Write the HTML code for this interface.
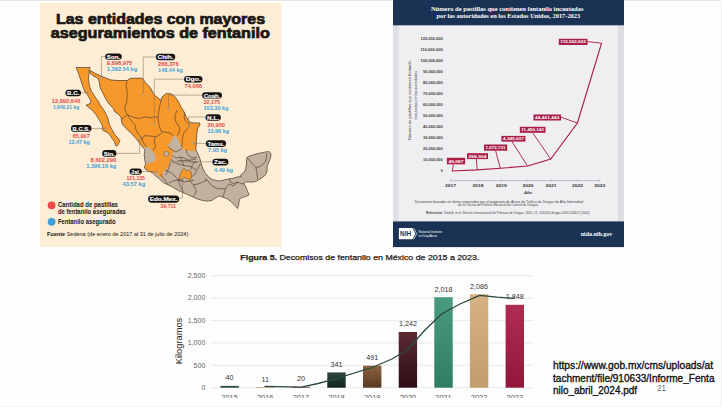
<!DOCTYPE html>
<html><head><meta charset="utf-8"><style>
html,body{margin:0;padding:0;background:#fefdfd;}
body{width:722px;height:407px;overflow:hidden;}
svg{display:block;font-family:"Liberation Sans",Arial,sans-serif;}
</style></head><body>
<svg width="722" height="407" viewBox="0 0 722 407">
<rect width="722" height="407" fill="#fefdfd"/>
<rect x="0" y="0" width="722" height="1" fill="#e6e4e6"/>

<rect x="40" y="3" width="241.4" height="243.9" fill="#fcedd4"/>
<text x="160.5" y="23.7" text-anchor="middle" font-size="14.5" font-weight="bold" fill="#1b1714" stroke="#1b1714" stroke-width="0.7" textLength="209" lengthAdjust="spacingAndGlyphs">Las entidades con mayores</text>
<text x="160.3" y="37.7" text-anchor="middle" font-size="14.5" font-weight="bold" fill="#1b1714" stroke="#1b1714" stroke-width="0.7" textLength="219" lengthAdjust="spacingAndGlyphs">aseguramientos de fentanilo</text>
<defs><clipPath id="mx"><polygon points="89.7,70.0 90.3,70.6 94.6,73.1 100.7,76.1 104.4,77.5 111.1,80.0 117.7,80.5 127.1,80.5 130.4,78.3 142.0,78.1 144.2,80.5 145.4,82.7 148.8,86.0 151.0,88.8 152.6,92.1 154.3,94.9 157.0,97.1 159.8,99.3 160.9,100.4 162.0,97.1 164.2,94.9 166.4,93.5 170.3,93.8 173.6,95.4 176.4,98.7 179.1,103.1 181.4,107.6 183.6,110.9 184.7,113.7 186.6,117.4 188.4,120.4 190.3,122.3 193.3,122.9 196.4,122.9 199.5,122.9 200.1,124.7 198.3,127.2 197.3,129.7 196.8,134.6 196.4,140.7 196.2,145.6 195.8,149.3 196.8,151.5 198.6,155.3 200.2,159.5 201.4,163.9 202.8,168.6 205.3,173.2 208.8,177.2 212.6,179.6 217.4,180.8 221.5,180.8 225.5,179.5 229.6,178.8 233.6,178.1 237.7,176.8 241.3,176.8 240.5,175.1 243.9,172.5 245.6,169.1 246.5,163.9 246.5,159.6 247.3,157.0 251.6,155.3 257.7,153.6 264.5,152.2 268.8,151.5 271.1,153.6 270.5,157.9 268.8,162.2 267.1,166.5 267.1,170.8 265.4,175.1 262.0,177.7 259.4,179.4 256.8,181.1 253.4,182.0 249.1,182.0 245.6,182.0 243.9,183.7 245.6,186.3 247.3,190.5 249.1,194.8 245.6,196.6 241.9,197.5 239.5,199.4 238.5,205.2 237.6,208.6 235.1,205.7 231.3,201.8 227.4,198.9 223.5,197.3 218.6,196.0 215.7,197.9 211.9,200.4 207.0,201.1 202.2,200.4 197.3,198.9 192.9,197.0 187.6,194.5 181.8,192.1 178.0,190.3 172.6,187.0 168.5,185.0 163.5,182.8 160.0,179.5 157.0,177.0 154.0,174.5 152.3,172.6 148.6,171.2 145.5,169.3 144.3,166.9 145.6,164.1 144.9,160.4 144.2,154.5 144.9,150.0 143.9,148.6 141.4,145.5 139.6,143.1 137.7,140.6 134.7,136.9 131.0,133.3 127.3,129.6 123.6,125.9 121.8,122.8 121.0,117.0 117.7,113.7 114.4,111.5 113.3,108.2 110.0,104.9 106.6,100.4 103.3,93.8 101.4,90.0 100.1,87.8 99.5,82.9 98.3,79.2 96.4,77.4 92.7,75.5 90.3,73.1"/></clipPath></defs>
<polygon points="89.7,70.0 90.3,70.6 94.6,73.1 100.7,76.1 104.4,77.5 111.1,80.0 117.7,80.5 127.1,80.5 130.4,78.3 142.0,78.1 144.2,80.5 145.4,82.7 148.8,86.0 151.0,88.8 152.6,92.1 154.3,94.9 157.0,97.1 159.8,99.3 160.9,100.4 162.0,97.1 164.2,94.9 166.4,93.5 170.3,93.8 173.6,95.4 176.4,98.7 179.1,103.1 181.4,107.6 183.6,110.9 184.7,113.7 186.6,117.4 188.4,120.4 190.3,122.3 193.3,122.9 196.4,122.9 199.5,122.9 200.1,124.7 198.3,127.2 197.3,129.7 196.8,134.6 196.4,140.7 196.2,145.6 195.8,149.3 196.8,151.5 198.6,155.3 200.2,159.5 201.4,163.9 202.8,168.6 205.3,173.2 208.8,177.2 212.6,179.6 217.4,180.8 221.5,180.8 225.5,179.5 229.6,178.8 233.6,178.1 237.7,176.8 241.3,176.8 240.5,175.1 243.9,172.5 245.6,169.1 246.5,163.9 246.5,159.6 247.3,157.0 251.6,155.3 257.7,153.6 264.5,152.2 268.8,151.5 271.1,153.6 270.5,157.9 268.8,162.2 267.1,166.5 267.1,170.8 265.4,175.1 262.0,177.7 259.4,179.4 256.8,181.1 253.4,182.0 249.1,182.0 245.6,182.0 243.9,183.7 245.6,186.3 247.3,190.5 249.1,194.8 245.6,196.6 241.9,197.5 239.5,199.4 238.5,205.2 237.6,208.6 235.1,205.7 231.3,201.8 227.4,198.9 223.5,197.3 218.6,196.0 215.7,197.9 211.9,200.4 207.0,201.1 202.2,200.4 197.3,198.9 192.9,197.0 187.6,194.5 181.8,192.1 178.0,190.3 172.6,187.0 168.5,185.0 163.5,182.8 160.0,179.5 157.0,177.0 154.0,174.5 152.3,172.6 148.6,171.2 145.5,169.3 144.3,166.9 145.6,164.1 144.9,160.4 144.2,154.5 144.9,150.0 143.9,148.6 141.4,145.5 139.6,143.1 137.7,140.6 134.7,136.9 131.0,133.3 127.3,129.6 123.6,125.9 121.8,122.8 121.0,117.0 117.7,113.7 114.4,111.5 113.3,108.2 110.0,104.9 106.6,100.4 103.3,93.8 101.4,90.0 100.1,87.8 99.5,82.9 98.3,79.2 96.4,77.4 92.7,75.5 90.3,73.1" fill="#c1b19e"/>
<g clip-path="url(#mx)"><polygon points="60.0,60.0 300.0,60.0 300.0,150.0 210.0,151.0 196.0,150.6 192.0,151.0 186.0,150.2 182.3,148.6 181.0,145.6 179.2,141.9 177.4,138.3 175.5,135.5 173.7,135.8 169.5,143.5 167.7,146.0 169.5,148.4 172.6,149.7 173.2,151.5 172.0,155.2 171.4,157.7 170.7,160.7 168.9,163.2 168.9,166.9 166.4,169.3 164.0,170.6 162.7,173.0 162.7,176.1 160.9,177.3 158.4,175.5 156.0,173.6 152.3,172.4 150.0,174.0 140.0,180.0 138.0,165.0 144.5,165.7 148.6,163.2 151.7,162.2 154.8,161.4 156.0,158.3 154.8,154.0 152.3,150.9 149.2,147.2 145.5,147.2 143.0,148.0 60.0,148.0" fill="#f7982b"/></g>
<polygon points="178.6,180.3 180.0,174.9 182.0,170.8 184.0,168.1 186.1,170.8 188.8,170.1 191.2,172.2 191.5,176.9 190.1,180.3 187.4,178.9 185.4,177.6 182.7,178.2 180.7,179.6" fill="#f7982b" stroke="#5a3f22" stroke-width="0.5"/>
<circle cx="166.4" cy="153.9" r="2.6" fill="#c1b19e" stroke="#5a3f22" stroke-width="0.4"/>
<g fill="none" stroke="#5e4330" stroke-width="0.7" stroke-linejoin="round"><polyline points="86.1,105.2 99.7,104.6"/>
<polyline points="127.1,80.5 126.5,83.8 126.0,86.1 127.1,90.5 127.1,97.1 126.5,103.8 124.9,106.0 124.9,109.3 126.0,112.6 127.7,114.8"/>
<polyline points="121.8,119.5 124.5,117.0 127.7,114.8"/>
<polyline points="127.7,114.8 133.4,117.3 139.6,118.5 144.5,116.7 150.6,117.9 154.3,116.7 158.0,117.3"/>
<polyline points="127.7,114.8 129.7,118.5 132.2,121.6 135.3,125.3 135.9,129.6 137.7,133.3 140.2,135.7 142.0,139.4 144.5,144.3 146.4,147.1"/>
<polyline points="160.9,100.4 160.0,105.0 159.0,110.0 158.0,117.3"/>
<polyline points="158.0,117.3 158.6,123.4 160.5,129.6 161.7,132.0 165.0,132.0 170.0,133.0 173.7,135.8"/>
<polyline points="177.4,110.0 175.5,113.7 174.9,117.4 175.5,121.0 178.6,126.0 179.8,128.4 179.2,132.1 177.4,135.8"/>
<polyline points="184.7,112.5 184.1,117.4 185.4,121.0 189.7,124.7 187.8,128.4 183.5,133.3 182.3,138.3 182.3,141.9 181.7,146.9"/>
<polyline points="142.0,139.4 144.5,135.7 150.0,136.0 155.5,136.9 158.0,135.7 161.7,133.3"/>
<polyline points="155.5,136.9 154.3,140.6 155.5,146.8 153.1,150.5"/>
<polyline points="168.0,146.5 172.0,150.0 176.0,152.0 180.0,150.0 182.3,148.1"/>
<polyline points="172.2,156.0 176.0,158.0 180.0,157.0 184.0,158.0 188.0,160.0 192.0,162.0 197.0,162.0"/>
<polyline points="170.7,158.9 174.0,162.0 178.0,164.0 182.0,165.0 186.0,166.0 190.0,166.0 193.0,168.0 196.0,170.0"/>
<polyline points="186.0,149.3 187.0,153.0 189.0,156.0 192.0,158.0 197.0,157.0"/>
<polyline points="180.0,157.0 182.0,161.0 184.0,166.0"/>
<polyline points="165.1,170.1 170.0,172.0 175.0,176.0 178.0,180.0 180.0,185.0 183.4,192.4"/>
<polyline points="178.6,180.3 184.0,182.0 190.0,181.0 194.0,180.0"/>
<polyline points="191.5,176.9 194.0,175.0 196.0,172.0 198.0,168.0 200.5,163.9"/>
<polyline points="229.6,178.8 230.0,182.0 234.5,183.7 237.0,182.0 241.3,183.7 243.9,183.7"/>
<polyline points="247.3,157.9 250.8,162.2 255.9,167.3 260.2,166.5 265.4,162.2 267.1,153.6"/>
<polyline points="255.9,167.3 256.8,172.5 257.7,179.4"/>
<polyline points="160.5,174.0 163.0,178.0 168.5,185.0"/>
<polyline points="168.8,182.7 173.0,181.0 179.0,179.8 183.6,180.5"/>
<polyline points="190.0,181.0 193.4,184.8 195.9,189.7 195.9,192.6 193.4,196.5"/>
<polyline points="193.4,184.8 198.3,183.9 203.1,181.9 207.0,180.0"/>
<polyline points="205.0,178.5 207.0,180.0 211.9,185.8 217.7,188.7 225.4,188.7 229.3,183.9 233.2,185.8 238.0,181.9"/>
<polyline points="225.4,188.7 223.5,195.5 223.5,197.3"/>
<polyline points="190.9,169.5 192.4,165.0 194.6,162.1 196.8,162.1"/>
<polyline points="177.7,160.6 185.0,160.6 191.7,159.9 196.1,159.1"/>
<polyline points="171.0,160.6 168.8,168.0 165.9,175.3"/></g>
<polygon points="89.7,70.0 90.3,70.6 94.6,73.1 100.7,76.1 104.4,77.5 111.1,80.0 117.7,80.5 127.1,80.5 130.4,78.3 142.0,78.1 144.2,80.5 145.4,82.7 148.8,86.0 151.0,88.8 152.6,92.1 154.3,94.9 157.0,97.1 159.8,99.3 160.9,100.4 162.0,97.1 164.2,94.9 166.4,93.5 170.3,93.8 173.6,95.4 176.4,98.7 179.1,103.1 181.4,107.6 183.6,110.9 184.7,113.7 186.6,117.4 188.4,120.4 190.3,122.3 193.3,122.9 196.4,122.9 199.5,122.9 200.1,124.7 198.3,127.2 197.3,129.7 196.8,134.6 196.4,140.7 196.2,145.6 195.8,149.3 196.8,151.5 198.6,155.3 200.2,159.5 201.4,163.9 202.8,168.6 205.3,173.2 208.8,177.2 212.6,179.6 217.4,180.8 221.5,180.8 225.5,179.5 229.6,178.8 233.6,178.1 237.7,176.8 241.3,176.8 240.5,175.1 243.9,172.5 245.6,169.1 246.5,163.9 246.5,159.6 247.3,157.0 251.6,155.3 257.7,153.6 264.5,152.2 268.8,151.5 271.1,153.6 270.5,157.9 268.8,162.2 267.1,166.5 267.1,170.8 265.4,175.1 262.0,177.7 259.4,179.4 256.8,181.1 253.4,182.0 249.1,182.0 245.6,182.0 243.9,183.7 245.6,186.3 247.3,190.5 249.1,194.8 245.6,196.6 241.9,197.5 239.5,199.4 238.5,205.2 237.6,208.6 235.1,205.7 231.3,201.8 227.4,198.9 223.5,197.3 218.6,196.0 215.7,197.9 211.9,200.4 207.0,201.1 202.2,200.4 197.3,198.9 192.9,197.0 187.6,194.5 181.8,192.1 178.0,190.3 172.6,187.0 168.5,185.0 163.5,182.8 160.0,179.5 157.0,177.0 154.0,174.5 152.3,172.6 148.6,171.2 145.5,169.3 144.3,166.9 145.6,164.1 144.9,160.4 144.2,154.5 144.9,150.0 143.9,148.6 141.4,145.5 139.6,143.1 137.7,140.6 134.7,136.9 131.0,133.3 127.3,129.6 123.6,125.9 121.8,122.8 121.0,117.0 117.7,113.7 114.4,111.5 113.3,108.2 110.0,104.9 106.6,100.4 103.3,93.8 101.4,90.0 100.1,87.8 99.5,82.9 98.3,79.2 96.4,77.4 92.7,75.5 90.3,73.1" fill="none" stroke="#4e3a28" stroke-width="0.7" stroke-linejoin="round"/>
<polygon points="76.1,67.5 77.4,70.6 79.2,75.5 81.1,81.1 82.9,86.6 84.8,91.5 87.2,94.6 88.4,96.4 89.7,98.9 90.9,101.3 90.3,103.2 87.2,105.0 86.1,105.2 88.6,107.4 91.1,109.2 93.5,111.7 96.0,114.7 98.4,118.4 100.9,122.7 102.7,126.4 102.1,128.9 103.3,130.7 106.4,131.9 109.5,134.4 111.9,138.1 114.4,141.8 115.6,145.5 116.9,146.1 118.7,143.6 119.9,140.5 118.1,138.1 115.6,135.6 113.2,131.9 111.3,128.3 109.5,124.6 108.3,119.7 106.4,114.7 104.0,110.4 101.5,106.8 99.7,104.3 98.4,101.2 96.4,98.9 94.0,95.2 91.5,91.5 89.7,86.6 89.1,82.9 88.4,78.0 89.1,74.3 89.1,71.2 89.7,68.8 90.3,67.5" fill="#f7982b" stroke="#4e3a28" stroke-width="0.7" stroke-linejoin="round"/>
<g fill="none" stroke="#7d6d5c" stroke-width="0.5"><polyline points="105.2,56.4 101.5,56.4 101.5,78.0"/>
<polyline points="155.9,57.0 143.3,57.0 143.3,95.4"/>
<polyline points="184.1,79.2 154.3,79.2 154.3,124.2"/>
<polyline points="202.1,95.1 168.6,95.1 168.6,109.2"/>
<polyline points="205.5,117.0 188.6,117.0 189.0,126.0"/>
<polyline points="205.8,143.4 192.7,143.4"/>
<polyline points="212.4,161.9 171.0,161.9"/>
<polyline points="81.0,92.8 89.1,92.8"/>
<polyline points="91.5,128.6 106.0,128.6"/>
<polyline points="116.4,153.4 139.6,153.4 139.6,138.2"/>
<polyline points="141.8,171.6 157.4,171.6"/>
<polyline points="179.2,198.0 182.5,198.0 182.5,177.6"/></g>
<circle cx="101.5" cy="78" r="0.9" fill="#f4e2c8" stroke="#6b5a45" stroke-width="0.4"/>
<circle cx="143.3" cy="95.4" r="0.9" fill="#f4e2c8" stroke="#6b5a45" stroke-width="0.4"/>
<circle cx="154.3" cy="124.2" r="0.9" fill="#f4e2c8" stroke="#6b5a45" stroke-width="0.4"/>
<circle cx="168.6" cy="109.2" r="0.9" fill="#f4e2c8" stroke="#6b5a45" stroke-width="0.4"/>
<circle cx="189" cy="126" r="0.9" fill="#f4e2c8" stroke="#6b5a45" stroke-width="0.4"/>
<circle cx="192.7" cy="143.4" r="0.9" fill="#f4e2c8" stroke="#6b5a45" stroke-width="0.4"/>
<circle cx="171" cy="161.9" r="0.9" fill="#f4e2c8" stroke="#6b5a45" stroke-width="0.4"/>
<circle cx="89.1" cy="92.8" r="0.9" fill="#f4e2c8" stroke="#6b5a45" stroke-width="0.4"/>
<circle cx="106" cy="128.6" r="0.9" fill="#f4e2c8" stroke="#6b5a45" stroke-width="0.4"/>
<circle cx="139.6" cy="138.2" r="0.9" fill="#f4e2c8" stroke="#6b5a45" stroke-width="0.4"/>
<circle cx="157.4" cy="171.6" r="0.9" fill="#f4e2c8" stroke="#6b5a45" stroke-width="0.4"/>
<circle cx="182.5" cy="177.6" r="0.9" fill="#f4e2c8" stroke="#6b5a45" stroke-width="0.4"/>
<rect x="105.2" y="53.4" width="16.6" height="6.4" rx="3.2" fill="#141210"/><text x="113.5" y="58.72" text-anchor="middle" font-size="5.9" font-weight="bold" fill="#fff" stroke="#fff" stroke-width="0.12" textLength="13.4" lengthAdjust="spacingAndGlyphs">Son.</text>
<text x="106.8" y="65.1" font-size="5.4" font-weight="bold" fill="#e4474b" text-anchor="start" textLength="25.5" lengthAdjust="spacingAndGlyphs">9,898,975</text>
<text x="106.8" y="71.4" font-size="5.4" font-weight="bold" fill="#3f9fd8" text-anchor="start" textLength="30.4" lengthAdjust="spacingAndGlyphs">1,392.54 kg</text>
<rect x="155.9" y="53.7" width="19.3" height="6.6" rx="3.3" fill="#141210"/><text x="165.55" y="59.12" text-anchor="middle" font-size="5.9" font-weight="bold" fill="#fff" stroke="#fff" stroke-width="0.12" textLength="16.1" lengthAdjust="spacingAndGlyphs">Chih.</text>
<text x="158.1" y="65.9" font-size="5.4" font-weight="bold" fill="#e4474b" text-anchor="start" textLength="20.6" lengthAdjust="spacingAndGlyphs">288,376</text>
<text x="158.1" y="72.1" font-size="5.4" font-weight="bold" fill="#3f9fd8" text-anchor="start" textLength="24.7" lengthAdjust="spacingAndGlyphs">148.44 kg</text>
<rect x="184.1" y="76" width="18.3" height="6.4" rx="3.2" fill="#141210"/><text x="193.25" y="81.32" text-anchor="middle" font-size="5.9" font-weight="bold" fill="#fff" stroke="#fff" stroke-width="0.12" textLength="15.1" lengthAdjust="spacingAndGlyphs">Dgo.</text>
<text x="184.5" y="88.2" font-size="5.4" font-weight="bold" fill="#e4474b" text-anchor="start" textLength="17.5" lengthAdjust="spacingAndGlyphs">74,066</text>
<rect x="202.1" y="92.3" width="19.9" height="6.3" rx="3.15" fill="#141210"/><text x="212.04999999999998" y="97.57" text-anchor="middle" font-size="5.9" font-weight="bold" fill="#fff" stroke="#fff" stroke-width="0.12" textLength="16.7" lengthAdjust="spacingAndGlyphs">Coah.</text>
<text x="203.5" y="104.2" font-size="5.4" font-weight="bold" fill="#e4474b" text-anchor="start" textLength="16.5" lengthAdjust="spacingAndGlyphs">32,175</text>
<text x="203.5" y="110.2" font-size="5.4" font-weight="bold" fill="#3f9fd8" text-anchor="start" textLength="25" lengthAdjust="spacingAndGlyphs">103.30 kg</text>
<rect x="205.5" y="114.2" width="15.3" height="6.5" rx="3.25" fill="#141210"/><text x="213.15" y="119.57" text-anchor="middle" font-size="5.9" font-weight="bold" fill="#fff" stroke="#fff" stroke-width="0.12" textLength="12.1" lengthAdjust="spacingAndGlyphs">N.L.</text>
<text x="207.5" y="127.2" font-size="5.4" font-weight="bold" fill="#e4474b" text-anchor="start" textLength="17.5" lengthAdjust="spacingAndGlyphs">20,950</text>
<text x="207.5" y="133.2" font-size="5.4" font-weight="bold" fill="#3f9fd8" text-anchor="start" textLength="21.5" lengthAdjust="spacingAndGlyphs">13.98 kg</text>
<rect x="205.8" y="140.2" width="20.3" height="6.7" rx="3.35" fill="#141210"/><text x="215.95000000000002" y="145.67" text-anchor="middle" font-size="5.9" font-weight="bold" fill="#fff" stroke="#fff" stroke-width="0.12" textLength="17.1" lengthAdjust="spacingAndGlyphs">Tams.</text>
<text x="208" y="152.2" font-size="5.4" font-weight="bold" fill="#3f9fd8" text-anchor="start" textLength="19" lengthAdjust="spacingAndGlyphs">7.95 kg</text>
<rect x="212.4" y="158.7" width="16.1" height="6.7" rx="3.35" fill="#141210"/><text x="220.45000000000002" y="164.17" text-anchor="middle" font-size="5.9" font-weight="bold" fill="#fff" stroke="#fff" stroke-width="0.12" textLength="12.9" lengthAdjust="spacingAndGlyphs">Zac.</text>
<text x="214" y="172.2" font-size="5.4" font-weight="bold" fill="#3f9fd8" text-anchor="start" textLength="19" lengthAdjust="spacingAndGlyphs">4.49 kg</text>
<rect x="65.5" y="89.8" width="15.5" height="6.4" rx="3.2" fill="#141210"/><text x="73.25" y="95.12" text-anchor="middle" font-size="5.9" font-weight="bold" fill="#fff" stroke="#fff" stroke-width="0.12" textLength="12.3" lengthAdjust="spacingAndGlyphs">B.C.</text>
<text x="80.4" y="102.6" font-size="5.4" font-weight="bold" fill="#e4474b" text-anchor="end" textLength="28.7" lengthAdjust="spacingAndGlyphs">12,092,646</text>
<text x="79.2" y="108.6" font-size="5.4" font-weight="bold" fill="#3f9fd8" text-anchor="end" textLength="26.3" lengthAdjust="spacingAndGlyphs">1,640.21 kg</text>
<rect x="71" y="125.1" width="20.5" height="6.7" rx="3.35" fill="#141210"/><text x="81.25" y="130.57" text-anchor="middle" font-size="5.9" font-weight="bold" fill="#fff" stroke="#fff" stroke-width="0.12" textLength="17.3" lengthAdjust="spacingAndGlyphs">B.C.S.</text>
<text x="89.9" y="138.2" font-size="5.4" font-weight="bold" fill="#e4474b" text-anchor="end" textLength="17.2" lengthAdjust="spacingAndGlyphs">65,907</text>
<text x="89.9" y="144.2" font-size="5.4" font-weight="bold" fill="#3f9fd8" text-anchor="end" textLength="21.5" lengthAdjust="spacingAndGlyphs">12.47 kg</text>
<rect x="102.2" y="150" width="14.2" height="6.8" rx="3.4" fill="#141210"/><text x="109.3" y="155.52" text-anchor="middle" font-size="5.9" font-weight="bold" fill="#fff" stroke="#fff" stroke-width="0.12" textLength="11.0" lengthAdjust="spacingAndGlyphs">Sin.</text>
<text x="116.2" y="161.7" font-size="5.4" font-weight="bold" fill="#e4474b" text-anchor="end" textLength="25.6" lengthAdjust="spacingAndGlyphs">8,602,290</text>
<text x="116.2" y="167.6" font-size="5.4" font-weight="bold" fill="#3f9fd8" text-anchor="end" textLength="29.9" lengthAdjust="spacingAndGlyphs">1,396.16 kg</text>
<rect x="129.5" y="168.4" width="12.3" height="6.4" rx="3.2" fill="#141210"/><text x="135.65" y="173.72" text-anchor="middle" font-size="5.9" font-weight="bold" fill="#fff" stroke="#fff" stroke-width="0.12" textLength="9.1" lengthAdjust="spacingAndGlyphs">Jal.</text>
<text x="144.9" y="180.1" font-size="5.4" font-weight="bold" fill="#e4474b" text-anchor="end" textLength="18.4" lengthAdjust="spacingAndGlyphs">121,135</text>
<text x="145.2" y="186.2" font-size="5.4" font-weight="bold" fill="#3f9fd8" text-anchor="end" textLength="22.7" lengthAdjust="spacingAndGlyphs">43.57 kg</text>
<rect x="148.1" y="195.4" width="31.1" height="7.4" rx="3.7" fill="#141210"/><text x="163.65" y="201.22" text-anchor="middle" font-size="5.9" font-weight="bold" fill="#fff" stroke="#fff" stroke-width="0.12" textLength="27.9" lengthAdjust="spacingAndGlyphs">Edo.Mex.</text>
<text x="160.6" y="207.8" font-size="5.4" font-weight="bold" fill="#e4474b" text-anchor="start" textLength="15.3" lengthAdjust="spacingAndGlyphs">39,711</text>
<circle cx="51.6" cy="205.3" r="3.9" fill="#ec4a46"/>
<circle cx="51.6" cy="221.8" r="3.9" fill="#3f9fd8"/>
<text x="57.9" y="207.2" font-size="6.3" font-weight="bold" fill="#1b1714" textLength="60" lengthAdjust="spacingAndGlyphs">Cantidad de pastillas</text>
<text x="57.9" y="214.3" font-size="6.3" font-weight="bold" fill="#1b1714" textLength="68" lengthAdjust="spacingAndGlyphs">de fentanilo aseguradas</text>
<text x="57.9" y="223.7" font-size="6.3" font-weight="bold" fill="#1b1714" textLength="57.6" lengthAdjust="spacingAndGlyphs">Fentanilo asegurado</text>
<text x="47" y="235.6" font-size="5.2" fill="#1b1714" textLength="141.3" lengthAdjust="spacingAndGlyphs"><tspan font-weight="bold">Fuente</tspan> Sedena (de enero de 2017 al 31 de julio de 2024)</text>


<rect x="393" y="0" width="231" height="247" fill="#efeef1"/>
<rect x="393" y="25.3" width="5.8" height="196.2" fill="#e0dfe3"/>
<rect x="617.8" y="25.3" width="6.2" height="196.2" fill="#dddce0"/>
<rect x="393" y="0" width="231" height="25.3" fill="#1a3253"/>
<text x="507.2" y="10.9" text-anchor="middle" font-family="Liberation Serif, serif" font-size="6.4" font-weight="bold" fill="#fff" textLength="152.6" lengthAdjust="spacingAndGlyphs">Número de pastillas que contienen fentanilo incautadas</text>
<text x="508.3" y="18.2" text-anchor="middle" font-family="Liberation Serif, serif" font-size="6.4" font-weight="bold" fill="#fff" textLength="143.7" lengthAdjust="spacingAndGlyphs">por las autoridades en los Estados Unidos, 2017-2023</text>
<text x="442.7" y="172.0" text-anchor="end" font-size="4.3" font-weight="bold" fill="#3a3a3a" textLength="2" lengthAdjust="spacingAndGlyphs">0</text>
<text x="442.7" y="161.0" text-anchor="end" font-size="4.3" font-weight="bold" fill="#3a3a3a" textLength="19.6" lengthAdjust="spacingAndGlyphs">10,000,000</text>
<text x="442.7" y="150.0" text-anchor="end" font-size="4.3" font-weight="bold" fill="#3a3a3a" textLength="19.6" lengthAdjust="spacingAndGlyphs">20,000,000</text>
<text x="442.7" y="139.0" text-anchor="end" font-size="4.3" font-weight="bold" fill="#3a3a3a" textLength="19.6" lengthAdjust="spacingAndGlyphs">30,000,000</text>
<text x="442.7" y="128.0" text-anchor="end" font-size="4.3" font-weight="bold" fill="#3a3a3a" textLength="19.6" lengthAdjust="spacingAndGlyphs">40,000,000</text>
<text x="442.7" y="117.0" text-anchor="end" font-size="4.3" font-weight="bold" fill="#3a3a3a" textLength="19.6" lengthAdjust="spacingAndGlyphs">50,000,000</text>
<text x="442.7" y="106.0" text-anchor="end" font-size="4.3" font-weight="bold" fill="#3a3a3a" textLength="19.6" lengthAdjust="spacingAndGlyphs">60,000,000</text>
<text x="442.7" y="95.0" text-anchor="end" font-size="4.3" font-weight="bold" fill="#3a3a3a" textLength="19.6" lengthAdjust="spacingAndGlyphs">70,000,000</text>
<text x="442.7" y="84.0" text-anchor="end" font-size="4.3" font-weight="bold" fill="#3a3a3a" textLength="19.6" lengthAdjust="spacingAndGlyphs">80,000,000</text>
<text x="442.7" y="73.0" text-anchor="end" font-size="4.3" font-weight="bold" fill="#3a3a3a" textLength="19.6" lengthAdjust="spacingAndGlyphs">90,000,000</text>
<text x="442.7" y="62.0" text-anchor="end" font-size="4.3" font-weight="bold" fill="#3a3a3a" textLength="22.2" lengthAdjust="spacingAndGlyphs">100,000,000</text>
<text x="442.7" y="51.0" text-anchor="end" font-size="4.3" font-weight="bold" fill="#3a3a3a" textLength="22.2" lengthAdjust="spacingAndGlyphs">110,000,000</text>
<text x="442.7" y="40.0" text-anchor="end" font-size="4.3" font-weight="bold" fill="#3a3a3a" textLength="22.2" lengthAdjust="spacingAndGlyphs">120,000,000</text>
<g stroke="#8a96a0" stroke-width="0.5"><line x1="450.6" y1="180.6" x2="599.8" y2="180.6"/><line x1="450.6" y1="179.4" x2="450.6" y2="181.8" />
<line x1="478.0" y1="179.4" x2="478.0" y2="181.8" />
<line x1="501.3" y1="179.4" x2="501.3" y2="181.8" />
<line x1="527.9" y1="179.4" x2="527.9" y2="181.8" />
<line x1="550.9" y1="179.4" x2="550.9" y2="181.8" />
<line x1="577.6" y1="179.4" x2="577.6" y2="181.8" />
<line x1="599.8" y1="179.4" x2="599.8" y2="181.8" /></g>
<text x="450.6" y="187.3" text-anchor="middle" font-size="4.4" font-weight="bold" fill="#333" textLength="11" lengthAdjust="spacingAndGlyphs">2017</text>
<text x="478.0" y="187.3" text-anchor="middle" font-size="4.4" font-weight="bold" fill="#333" textLength="11" lengthAdjust="spacingAndGlyphs">2018</text>
<text x="501.3" y="187.3" text-anchor="middle" font-size="4.4" font-weight="bold" fill="#333" textLength="11" lengthAdjust="spacingAndGlyphs">2019</text>
<text x="527.9" y="187.3" text-anchor="middle" font-size="4.4" font-weight="bold" fill="#333" textLength="11" lengthAdjust="spacingAndGlyphs">2020</text>
<text x="550.9" y="187.3" text-anchor="middle" font-size="4.4" font-weight="bold" fill="#333" textLength="11" lengthAdjust="spacingAndGlyphs">2021</text>
<text x="577.6" y="187.3" text-anchor="middle" font-size="4.4" font-weight="bold" fill="#333" textLength="11" lengthAdjust="spacingAndGlyphs">2022</text>
<text x="599.8" y="187.3" text-anchor="middle" font-size="4.4" font-weight="bold" fill="#333" textLength="11" lengthAdjust="spacingAndGlyphs">2023</text>
<text x="528.1" y="193.8" text-anchor="middle" font-size="4.2" font-style="italic" font-weight="bold" fill="#333">Año</text>
<text transform="translate(411.3,100.2) rotate(-90)" text-anchor="middle" font-size="4.2" fill="#333" textLength="79.3" lengthAdjust="spacingAndGlyphs">Número de pastillas que contienen fentanilo</text>
<text transform="translate(416.9,95.5) rotate(-90)" text-anchor="middle" font-size="4.2" fill="#333" textLength="49" lengthAdjust="spacingAndGlyphs">incautadas por las autoridades</text>
<polyline points="451.8,171.0 477.3,169.9 500.6,168.3 527.6,166.0 550.8,159.0 577.4,123.0 601.6,43.2" fill="none" stroke="#a81c46" stroke-width="1.15" stroke-linejoin="miter"/>
<line x1="453.3" y1="164.3" x2="452.3" y2="171.0" stroke="#a81c46" stroke-width="0.9"/>
<rect x="446.9" y="157.8" width="18.2" height="6.5" fill="#a81c46"/>
<text x="456.0" y="162.6" text-anchor="middle" font-size="4.4" font-weight="bold" fill="#fff" textLength="15.0" lengthAdjust="spacingAndGlyphs">49,087</text>
<line x1="476.4" y1="159.1" x2="477.2" y2="169.9" stroke="#a81c46" stroke-width="0.9"/>
<rect x="467.0" y="153.2" width="21.0" height="5.9" fill="#a81c46"/>
<text x="477.5" y="157.7" text-anchor="middle" font-size="4.4" font-weight="bold" fill="#fff" textLength="17.8" lengthAdjust="spacingAndGlyphs">268,904</text>
<line x1="495.6" y1="150.7" x2="500.3" y2="168.3" stroke="#a81c46" stroke-width="0.9"/>
<rect x="484.0" y="144.5" width="23.2" height="6.2" fill="#a81c46"/>
<text x="495.6" y="149.2" text-anchor="middle" font-size="4.4" font-weight="bold" fill="#fff" textLength="20.0" lengthAdjust="spacingAndGlyphs">1,072,731</text>
<line x1="512.0" y1="141.6" x2="527.5" y2="166.0" stroke="#a81c46" stroke-width="0.9"/>
<rect x="501.4" y="135.9" width="24.0" height="5.7" fill="#a81c46"/>
<text x="513.4" y="140.3" text-anchor="middle" font-size="4.4" font-weight="bold" fill="#fff" textLength="20.8" lengthAdjust="spacingAndGlyphs">4,349,037</text>
<line x1="532.7" y1="132.8" x2="550.7" y2="159.0" stroke="#a81c46" stroke-width="0.9"/>
<rect x="519.8" y="126.8" width="25.7" height="6.0" fill="#a81c46"/>
<text x="532.6" y="131.4" text-anchor="middle" font-size="4.4" font-weight="bold" fill="#fff" textLength="22.5" lengthAdjust="spacingAndGlyphs">11,450,142</text>
<line x1="561.0" y1="117.2" x2="577.3" y2="123.0" stroke="#a81c46" stroke-width="0.9"/>
<rect x="533.5" y="114.5" width="27.5" height="6.0" fill="#a81c46"/>
<text x="547.2" y="119.0" text-anchor="middle" font-size="4.4" font-weight="bold" fill="#fff" textLength="24.3" lengthAdjust="spacingAndGlyphs">44,461,443</text>
<line x1="587.5" y1="41.6" x2="601.6" y2="43.2" stroke="#a81c46" stroke-width="0.9"/>
<rect x="558.8" y="38.8" width="28.7" height="6.2" fill="#a81c46"/>
<text x="573.1" y="43.4" text-anchor="middle" font-size="4.4" font-weight="bold" fill="#fff" textLength="25.5" lengthAdjust="spacingAndGlyphs">115,562,603</text>
<text x="499" y="202.6" text-anchor="middle" font-size="3.6" fill="#444" textLength="168.6" lengthAdjust="spacingAndGlyphs">Decomisos basados en datos reportados por el programa de Áreas de Tráfico de Drogas de Alta Intensidad</text>
<text x="498.4" y="206.3" text-anchor="middle" font-size="3.6" fill="#444" textLength="80.7" lengthAdjust="spacingAndGlyphs">de la Oficina de Política Nacional de Control de Drogas.</text>
<text x="507.8" y="213.8" text-anchor="middle" font-size="3.4" fill="#444" textLength="163.6" lengthAdjust="spacingAndGlyphs"><tspan font-weight="bold">Referencia:</tspan> Tetzlaff, et al. Revista Internacional de Políticas de Drogas, 2025; 15, 101416 (drugpo.2024.104117 (2024)</text>
<rect x="393" y="221.4" width="231" height="25.7" fill="#1a3253"/>
<path d="M398.9,228.1 H412.4 L415.4,233.65 L412.4,239.2 H398.9 Z" fill="#fff"/>
<path d="M413.6,228.1 L416.8,233.65 L413.6,239.2" fill="none" stroke="#fff" stroke-width="0.7"/>
<text x="405.6" y="236.4" text-anchor="middle" font-size="7" font-weight="bold" fill="#1a3253" textLength="11" lengthAdjust="spacingAndGlyphs">NIH</text>
<text x="418.6" y="233.4" font-size="3.6" fill="#fff" textLength="23.3" lengthAdjust="spacingAndGlyphs">National Institute</text>
<text x="418.6" y="237.3" font-size="3.6" fill="#fff" textLength="18.5" lengthAdjust="spacingAndGlyphs">on Drug Abuse</text>
<text x="596.5" y="236" text-anchor="middle" font-family="Liberation Serif, serif" font-size="7" font-weight="bold" fill="#fff" textLength="31.5" lengthAdjust="spacingAndGlyphs">nida.nih.gov</text>


<defs><linearGradient id="g2015" x1="0" y1="0" x2="0" y2="1"><stop offset="0" stop-color="#2f5343"/><stop offset="1" stop-color="#274538"/></linearGradient><linearGradient id="g2016" x1="0" y1="0" x2="0" y2="1"><stop offset="0" stop-color="#b58a6a"/><stop offset="1" stop-color="#8a5a40"/></linearGradient><linearGradient id="g2017" x1="0" y1="0" x2="0" y2="1"><stop offset="0" stop-color="#b14a5a"/><stop offset="1" stop-color="#8a2a3a"/></linearGradient><linearGradient id="g2018" x1="0" y1="0" x2="0" y2="1"><stop offset="0" stop-color="#2b4a3d"/><stop offset="1" stop-color="#12241c"/></linearGradient><linearGradient id="g2019" x1="0" y1="0" x2="0" y2="1"><stop offset="0" stop-color="#8a6440"/><stop offset="1" stop-color="#5a3a1e"/></linearGradient><linearGradient id="g2020" x1="0" y1="0" x2="0" y2="1"><stop offset="0" stop-color="#5a2a33"/><stop offset="1" stop-color="#2e0e16"/></linearGradient><linearGradient id="g2021" x1="0" y1="0" x2="0" y2="1"><stop offset="0" stop-color="#4a9a80"/><stop offset="1" stop-color="#2f7e63"/></linearGradient><linearGradient id="g2022" x1="0" y1="0" x2="0" y2="1"><stop offset="0" stop-color="#d7b283"/><stop offset="1" stop-color="#c39c6b"/></linearGradient><linearGradient id="g2023" x1="0" y1="0" x2="0" y2="1"><stop offset="0" stop-color="#b02d52"/><stop offset="1" stop-color="#92163a"/></linearGradient></defs>
<text x="359.8" y="259.9" text-anchor="middle" font-size="7.5" fill="#1e1e1e" stroke="#1e1e1e" stroke-width="0.25" textLength="238.9" lengthAdjust="spacingAndGlyphs"><tspan font-weight="bold">Figura 5.</tspan> Decomisos de fentanilo en México de 2015 a 2023.</text>
<g stroke="#e2e2e2" stroke-width="0.7"><line x1="211" y1="387.7" x2="533" y2="387.7"/>
<line x1="211" y1="365.3" x2="533" y2="365.3"/>
<line x1="211" y1="342.9" x2="533" y2="342.9"/>
<line x1="211" y1="320.4" x2="533" y2="320.4"/>
<line x1="211" y1="298.0" x2="533" y2="298.0"/>
<line x1="211" y1="275.6" x2="533" y2="275.6"/></g>
<text x="205.3" y="390.1" text-anchor="end" font-size="7" fill="#666">0</text>
<text x="205.3" y="367.7" text-anchor="end" font-size="7" fill="#666">500</text>
<text x="205.3" y="345.3" text-anchor="end" font-size="7" fill="#666">1,000</text>
<text x="205.3" y="322.8" text-anchor="end" font-size="7" fill="#666">1,500</text>
<text x="205.3" y="300.4" text-anchor="end" font-size="7" fill="#666">2,000</text>
<text x="205.3" y="278.0" text-anchor="end" font-size="7" fill="#666">2,500</text>
<text transform="translate(182.2,341) rotate(-90)" text-anchor="middle" font-size="8.9" fill="#222" textLength="46.5" lengthAdjust="spacingAndGlyphs">Kilogramos</text>
<rect x="220.4" y="385.9" width="18.4" height="1.8" fill="url(#g2015)"/><text x="229.6" y="380.3" text-anchor="middle" font-size="7.2" fill="#333">40</text><text x="229.6" y="400.1" text-anchor="middle" font-size="7.4" fill="#555">2015</text><rect x="256.1" y="387.2" width="18.4" height="0.5" fill="url(#g2016)"/><text x="265.2" y="381.6" text-anchor="middle" font-size="7.2" fill="#333">11</text><text x="265.2" y="400.1" text-anchor="middle" font-size="7.4" fill="#555">2016</text><rect x="291.7" y="386.8" width="18.4" height="0.9" fill="url(#g2017)"/><text x="300.9" y="381.2" text-anchor="middle" font-size="7.2" fill="#333">20</text><text x="300.9" y="400.1" text-anchor="middle" font-size="7.4" fill="#555">2017</text><rect x="327.3" y="372.4" width="18.4" height="15.3" fill="url(#g2018)"/><text x="336.5" y="366.8" text-anchor="middle" font-size="7.2" fill="#333">341</text><text x="336.5" y="400.1" text-anchor="middle" font-size="7.4" fill="#555">2018</text><rect x="363.0" y="365.7" width="18.4" height="22.0" fill="url(#g2019)"/><text x="372.2" y="360.1" text-anchor="middle" font-size="7.2" fill="#333">491</text><text x="372.2" y="400.1" text-anchor="middle" font-size="7.4" fill="#555">2019</text><rect x="398.7" y="332.0" width="18.4" height="55.7" fill="url(#g2020)"/><text x="407.9" y="326.4" text-anchor="middle" font-size="7.2" fill="#333">1,242</text><text x="407.9" y="400.1" text-anchor="middle" font-size="7.4" fill="#555">2020</text><rect x="434.3" y="297.2" width="18.4" height="90.5" fill="url(#g2021)"/><text x="443.5" y="291.6" text-anchor="middle" font-size="7.2" fill="#333">2,018</text><text x="443.5" y="400.1" text-anchor="middle" font-size="7.4" fill="#555">2021</text><rect x="469.9" y="294.2" width="18.4" height="93.5" fill="url(#g2022)"/><text x="479.1" y="288.6" text-anchor="middle" font-size="7.2" fill="#333">2,086</text><text x="479.1" y="400.1" text-anchor="middle" font-size="7.4" fill="#555">2022</text><rect x="505.6" y="304.8" width="18.4" height="82.9" fill="url(#g2023)"/><text x="514.8" y="299.2" text-anchor="middle" font-size="7.2" fill="#333">1,848</text><text x="514.8" y="400.1" text-anchor="middle" font-size="7.4" fill="#555">2023</text>
<polyline points="264.5,386.4 301.4,387.1 318.0,383.5 336.2,378.6 372.0,367.5 392.0,359.0 407.7,349.5 425.0,330.0 441.6,314.0 460.0,304.0 479.6,295.3 497.0,297.2 514.8,298.4" fill="none" stroke="#2b4b3c" stroke-width="1.3" stroke-linejoin="round"/>
<rect x="150" y="398" width="400" height="9" fill="#fefdfd"/>


<text x="553" y="369.3" font-size="11" fill="#111" stroke="#111" stroke-width="0.35" textLength="160" lengthAdjust="spacingAndGlyphs">https://www.gob.mx/cms/uploads/at</text>
<text x="553" y="381.5" font-size="11" fill="#111" stroke="#111" stroke-width="0.35" textLength="161.5" lengthAdjust="spacingAndGlyphs">tachment/file/910633/Informe_Fenta</text>
<text x="553" y="393.7" font-size="11" fill="#111" stroke="#111" stroke-width="0.35" textLength="84" lengthAdjust="spacingAndGlyphs">nilo_abril_2024.pdf</text>
<rect x="0" y="406" width="722" height="1" fill="#f4f4f4"/><rect x="721" y="0" width="1" height="407" fill="#f3f3f3"/>
<text x="657.2" y="390.9" font-size="8.4" fill="#6a6a6a" textLength="8.8" lengthAdjust="spacingAndGlyphs">21</text>

</svg>
</body></html>
